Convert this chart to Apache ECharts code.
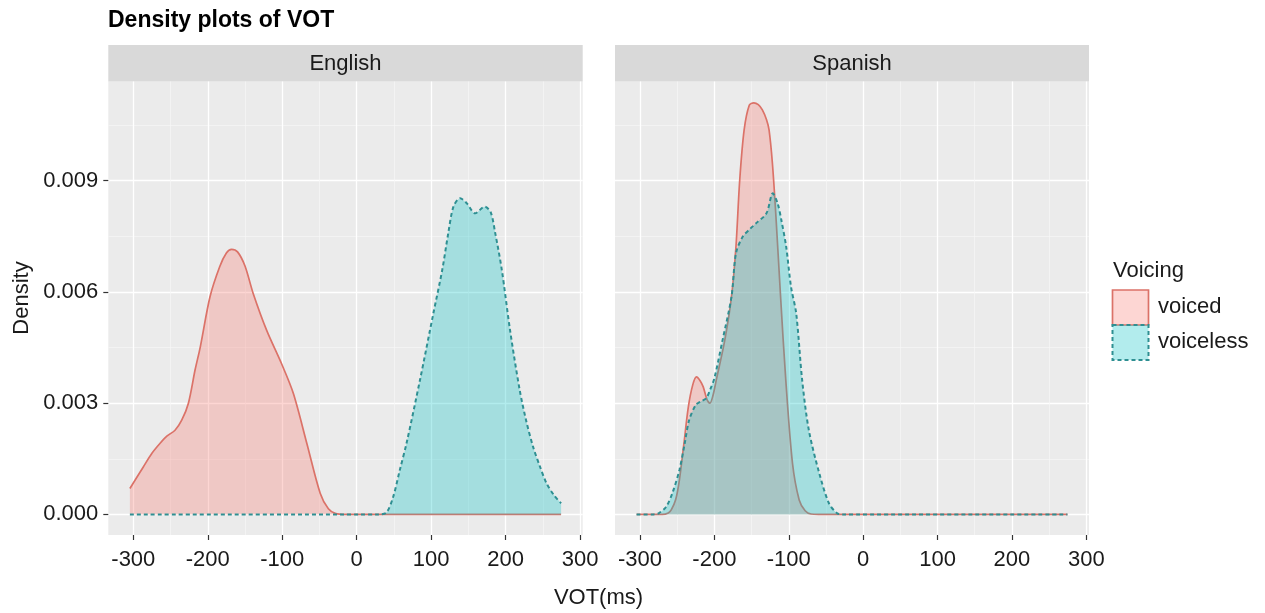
<!DOCTYPE html>
<html>
<head>
<meta charset="utf-8">
<title>Density plots of VOT</title>
<script src="https://cdn.jsdelivr.net/npm/echarts@6/dist/echarts.min.js"></script>
<style>
  html, body { margin: 0; padding: 0; background: #fff; }
  #chart { width: 1265px; height: 613px; }
</style>
</head>
<body>
<div id="chart"></div>
<script>
// density curves: [VOT (ms), density]
const englishVoiced = [
  [-304.6, 0.0007], [-286.6, 0.00128], [-275, 0.00165], [-264, 0.00192], [-255, 0.00211],
  [-244, 0.00227], [-235, 0.00254], [-226, 0.003], [-217, 0.0039], [-210, 0.00452],
  [-197, 0.00587], [-184, 0.00668], [-175, 0.00705], [-168, 0.00715], [-160, 0.00708],
  [-150, 0.0067], [-139, 0.00596], [-121, 0.00497], [-101, 0.00407], [-85, 0.00326],
  [-67, 0.00192], [-49, 0.00057], [-38, 0.00015], [-28, 0.00002], [-15, 0], [274.6, 0]
]
const englishVoiceless = [
  [-304.6, 0], [30, 0], [40, 0.00005], [49, 0.00047], [58, 0.0012], [67, 0.00192],
  [85, 0.00362], [103, 0.00542], [115, 0.0066], [123, 0.00758], [130, 0.0083],
  [139, 0.00853], [148, 0.00839], [159, 0.00812], [172, 0.0083], [180, 0.00815],
  [186, 0.0076], [195, 0.00659], [206, 0.00497], [219, 0.00335], [228, 0.0025],
  [237, 0.00182], [246, 0.0013], [255, 0.00084], [265, 0.00052], [274.6, 0.0003]
]
const spanishVoiced = [
  [-304.6, 0], [-270, 0], [-262, 0.00004], [-258, 0.00012], [-252, 0.0004], [-247, 0.00093],
  [-241, 0.0019], [-235, 0.0029], [-229, 0.0035], [-224, 0.00371], [-219, 0.0036],
  [-215, 0.00344], [-210, 0.0031], [-206, 0.003], [-202, 0.0032], [-197.5, 0.00362],
  [-186, 0.0047], [-177, 0.00587], [-171, 0.00722], [-166, 0.009], [-160, 0.01037],
  [-153, 0.01104], [-147, 0.0111], [-141, 0.01105], [-135.5, 0.01091], [-130, 0.01065],
  [-126.5, 0.01037], [-122, 0.00947], [-117.5, 0.00812], [-111, 0.00587], [-104, 0.00362],
  [-95, 0.00138], [-86, 0.00039], [-78, 0.0001], [-70, 0.00001], [-60, 0], [274.6, 0]
]
const spanishVoiceless = [
  [-304.6, 0], [-282, 0], [-275, 0.00003], [-265, 0.0002], [-256, 0.0006], [-247, 0.0012],
  [-240, 0.0019], [-234, 0.00254], [-225, 0.00295], [-218, 0.00305], [-211, 0.00313],
  [-205, 0.0034], [-200, 0.00367], [-189, 0.0047], [-177, 0.00587], [-171, 0.00704],
  [-162, 0.00749], [-152, 0.0077], [-144, 0.00785], [-130, 0.00812], [-121.5, 0.00866],
  [-115, 0.00839], [-110, 0.00794], [-103.5, 0.00722], [-97, 0.00614], [-90, 0.00542],
  [-82, 0.00362], [-73, 0.00227], [-59, 0.00111], [-46, 0.0003], [-35, 0.00003],
  [-28, 0], [274.6, 0]
]

const panels = ['English', 'Spanish']
const groups = ['voiced', 'voiceless']
const xTicks = [-300, -200, -100, 0, 100, 200, 300]
const xMinorTicks = [-250, -150, -50, 50, 150, 250]
const yTicks = [0, 0.003, 0.006, 0.009]
const yMinorTicks = [0.0015, 0.0045, 0.0075, 0.0105]

const FONT = '"Liberation Sans", Arial, Helvetica, sans-serif'
const X_MIN = -333.6, X_MAX = 303.6
const Y_MIN = -0.000556, Y_MAX = 0.011676
const RED = '#db7268', RED_FILL = 'rgba(248,118,109,0.3)'
const TEAL = '#2e8f92', TEAL_FILL = 'rgba(0,191,196,0.3)'

const gridBoxes = [
  { left: 108.3, top: 81.5, width: 474.4, height: 453.5 },
  { left: 615, top: 81.5, width: 474, height: 453.5 }
]

const chart = echarts.init(document.getElementById('chart'))

const xAxes = []
const yAxes = []
gridBoxes.forEach((g, i) => {
  // major
  xAxes.push({
    type: 'value', gridIndex: i, min: X_MIN, max: X_MAX, position: 'bottom',
    axisLine: { show: false, onZero: false },
    axisTick: { show: true, length: 5, customValues: xTicks, lineStyle: { color: '#333', width: 1.2 } },
    axisLabel: { customValues: xTicks, margin: 14, fontSize: 22, color: '#1a1a1a', fontFamily: FONT },
    splitLine: { show: true, lineStyle: { color: '#ffffff', width: 1.3 } }
  })
  // minor grid only
  xAxes.push({
    type: 'value', gridIndex: i, min: X_MIN, max: X_MAX, position: 'top',
    axisLine: { show: false, onZero: false },
    axisTick: { show: false, customValues: xMinorTicks },
    axisLabel: { show: false, customValues: xMinorTicks },
    splitLine: { show: true, lineStyle: { color: '#f7f7f7', width: 0.7 } }
  })
  yAxes.push({
    type: 'value', gridIndex: i, min: Y_MIN, max: Y_MAX, position: 'left',
    axisLine: { show: false, onZero: false },
    axisTick: { show: i === 0, length: 5, customValues: yTicks, lineStyle: { color: '#333', width: 1.2 } },
    axisLabel: {
      show: i === 0, customValues: yTicks, margin: 10, fontSize: 22, color: '#1a1a1a', fontFamily: FONT,
      formatter: v => v.toFixed(3)
    },
    splitLine: { show: true, lineStyle: { color: '#ffffff', width: 1.3 } }
  })
  yAxes.push({
    type: 'value', gridIndex: i, min: Y_MIN, max: Y_MAX, position: 'right',
    axisLine: { show: false, onZero: false },
    axisTick: { show: false, customValues: yMinorTicks },
    axisLabel: { show: false, customValues: yMinorTicks },
    splitLine: { show: true, lineStyle: { color: '#f7f7f7', width: 0.7 } }
  })
})

const curves = [
  [englishVoiced, englishVoiceless],
  [spanishVoiced, spanishVoiceless]
]
const series = []
curves.forEach((pair, i) => {
  pair.forEach((data, k) => {
    const voiced = k === 0
    series.push({
      name: groups[k],
      type: 'line',
      xAxisIndex: i * 2,
      yAxisIndex: i * 2,
      data: data,
      smooth: 0.3,
      symbol: 'none',
      silent: true,
      lineStyle: voiced
        ? { color: RED, width: 1.7 }
        : { color: TEAL, width: 2, type: [4, 3] },
      itemStyle: { color: voiced ? RED : TEAL },
      areaStyle: { color: voiced ? RED_FILL : TEAL_FILL, opacity: 1 },
      z: 2 + k
    })
  })
})

const txt = (text, x, y, size, align, extra) => Object.assign({
  type: 'text', x: x, y: y,
  style: {
    text: text, font: size + 'px ' + FONT, fill: '#1a1a1a',
    align: align, verticalAlign: 'middle', textAlign: align, textVerticalAlign: 'middle'
  }
}, extra || {})

const graphic = [
  {
    type: 'text', x: 108, y: 21,
    style: {
      text: 'Density plots of VOT', font: 'bold 23px ' + FONT, fill: '#000',
      align: 'left', verticalAlign: 'middle', textAlign: 'left', textVerticalAlign: 'middle'
    }
  },
  txt('Density', 22, 298, 22, 'center', { rotation: Math.PI / 2 }),
  txt('VOT(ms)', 598.5, 598, 22, 'center'),
  // legend
  txt('Voicing', 1113, 271, 22, 'left'),
  {
    type: 'rect', shape: { x: 1112.5, y: 290, width: 36, height: 35 },
    style: { fill: RED_FILL, stroke: RED, lineWidth: 1.7 }
  },
  {
    type: 'rect', shape: { x: 1112.5, y: 325, width: 36, height: 35 },
    style: { fill: TEAL_FILL, stroke: TEAL, lineWidth: 2, lineDash: [4, 3] }
  },
  txt('voiced', 1158, 307, 22, 'left'),
  txt('voiceless', 1158, 342, 22, 'left')
]
// facet strips
gridBoxes.forEach((g, i) => {
  graphic.push({
    type: 'rect', shape: { x: g.left, y: 45, width: g.width, height: g.top - 45 },
    style: { fill: '#d9d9d9' }
  })
  graphic.push(txt(panels[i], g.left + g.width / 2, 63.5, 22, 'center'))
})

const option = {
  backgroundColor: '#ffffff',
  animation: false,
  grid: gridBoxes.map(g => ({
    left: g.left, top: g.top, width: g.width, height: g.height,
    show: true, backgroundColor: '#ebebeb', borderWidth: 0, containLabel: false
  })),
  xAxis: xAxes,
  yAxis: yAxes,
  series: series,
  graphic: graphic
}

chart.setOption(option)
</script>
</body>
</html>
